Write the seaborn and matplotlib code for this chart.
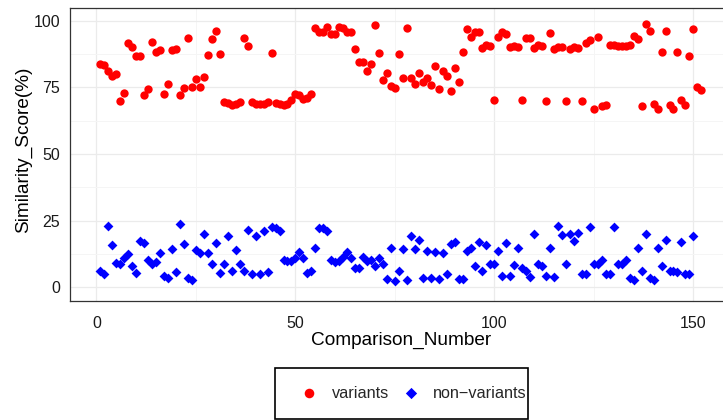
import numpy as np
import pandas as pd
import matplotlib
matplotlib.use("Agg")
import matplotlib.pyplot as plt
import seaborn as sns
from matplotlib.patches import Rectangle
from matplotlib.ticker import MultipleLocator

# ---------------- data ----------------
variants = [
    83.8, 83.5, 81.3, 79.1, 79.9, 69.8, 72.9, 91.5, 90.0, 86.7,
    86.9, 72.3, 74.3, 91.9, 88.4, 89.2, 72.6, 76.1, 89.2, 89.4,
    72.0, 74.9, 93.4, 75.1, 78.0, 75.1, 78.9, 87.3, 93.2, 96.0,
    87.6, 69.5, 69.1, 68.5, 68.6, 69.5, 93.5, 90.7, 69.5, 68.8,
    68.6, 68.8, 69.5, 87.9, 69.2, 68.6, 68.3, 68.6, 70.1, 72.6,
    72.2, 70.8, 70.9, 72.6, 97.3, 95.6, 95.6, 97.8, 95.0, 95.0,
    97.5, 97.3, 95.6, 95.6, 89.4, 84.4, 84.6, 81.0, 83.8, 98.5,
    87.8, 77.6, 80.5, 75.7, 74.7, 87.6, 78.5, 97.1, 78.5, 76.1,
    80.3, 77.0, 78.5, 76.0, 83.2, 74.5, 81.3, 79.2, 73.5, 82.3,
    77.0, 88.4, 96.9, 93.8, 95.9, 95.9, 89.8, 91.0, 90.4, 70.4,
    93.8, 95.9, 95.2, 90.0, 90.7, 90.2, 70.4, 93.5, 93.5, 89.6,
    91.0, 90.7, 69.8, 95.4, 89.4, 90.2, 90.1, 69.9, 89.4, 90.2,
    89.9, 69.9, 91.7, 92.7, 67.0, 93.8, 68.0, 68.5, 91.0, 91.0,
    90.7, 90.7, 90.7, 91.0, 94.2, 93.2, 67.9, 98.8, 96.3, 68.7,
    67.0, 88.2, 96.3, 68.3, 66.8, 88.2, 70.1, 68.3, 86.7, 96.9,
    75.1, 73.9,
]
non_variants = [
    6.1, 5.1, 22.9, 15.8, 9.2, 8.6, 11.1, 12.6, 7.9, 5.5,
    17.5, 16.7, 10.4, 8.6, 9.6, 12.9, 4.2, 3.6, 14.4, 5.7,
    23.8, 16.4, 3.4, 2.9, 14.2, 12.9, 20.0, 12.9, 8.6, 16.7,
    5.5, 8.6, 19.1, 6.1, 14.2, 8.6, 6.1, 21.6, 5.1, 19.1,
    5.1, 21.0, 5.9, 22.5, 22.3, 21.0, 10.4, 9.8, 9.8, 11.1,
    13.3, 11.1, 5.5, 6.1, 14.6, 22.3, 22.1, 21.0, 10.1, 9.6,
    9.8, 11.3, 13.3, 11.1, 7.1, 7.1, 11.3, 9.8, 10.1, 7.9,
    11.1, 8.8, 3.0, 14.8, 2.4, 6.1, 14.4, 2.6, 19.1, 14.4,
    17.9, 3.4, 13.8, 3.4, 13.3, 3.0, 12.9, 4.9, 16.3, 17.0,
    3.0, 3.0, 13.6, 14.6, 7.9, 17.0, 6.3, 15.8, 8.8, 8.6,
    13.6, 4.2, 16.7, 4.2, 8.3, 14.8, 7.3, 6.1, 3.9, 20.0,
    8.6, 7.9, 4.2, 14.8, 3.9, 22.9, 19.8, 8.8, 20.0, 17.3,
    20.4, 4.9, 4.9, 22.5, 8.6, 8.8, 10.1, 5.1, 5.1, 22.5,
    8.6, 8.8, 10.1, 3.4, 2.9, 14.8, 6.1, 20.0, 3.4, 2.9,
    14.8, 7.9, 17.9, 6.3, 6.1, 5.9, 17.0, 4.9, 4.9, 19.1,
]
x_variants = list(range(1, len(variants) + 1))
x_non_variants = list(range(1, len(non_variants) + 1))

series_labels = ["variants", "non\u2212variants"]
x_label = "Comparison_Number"
y_label = "Similarity_Score(%)"
x_ticks = [0, 50, 100, 150]
y_ticks = [0, 25, 50, 75, 100]

# ---------------- style ----------------
sns.set_style("white")
plt.rcParams["font.family"] = ["Liberation Sans", "DejaVu Sans"]

W, H = 723, 420
fig = plt.figure(figsize=(W / 100, H / 100), dpi=100)
left_px, right_px, top_px, bottom_px = 70.4, 731.4, 7.7, 301.0
ax = fig.add_axes([left_px / W, 1 - bottom_px / H,
                   (right_px - left_px) / W, (bottom_px - top_px) / H])

df_v = pd.DataFrame({"Comparison_Number": x_variants, "Similarity_Score": variants})
df_n = pd.DataFrame({"Comparison_Number": x_non_variants, "Similarity_Score": non_variants})

sns.scatterplot(data=df_v, x="Comparison_Number", y="Similarity_Score",
                color="#FF0000", marker="o", s=36, linewidth=0,
                label=series_labels[0], ax=ax, zorder=3)
sns.scatterplot(data=df_n, x="Comparison_Number", y="Similarity_Score",
                color="#0000FF", marker="D", s=25, linewidth=0,
                label=series_labels[1], ax=ax, zorder=3)

ax.set_xlim(-6.55, 159.55)
ax.set_ylim(-5.1, 104.9)
ax.set_xticks(x_ticks)
ax.set_yticks(y_ticks)
ax.xaxis.set_minor_locator(MultipleLocator(25))
ax.yaxis.set_minor_locator(MultipleLocator(12.5))

ax.set_axisbelow(True)
ax.grid(which="major", color="#EBEBEB", linewidth=0.9)
ax.grid(which="minor", color="#F5F5F5", linewidth=0.7)

ax.tick_params(which="major", direction="in", length=7.5, width=1.0,
               color="black", labelsize=11.5, labelcolor="#1A1A1A")
ax.tick_params(axis="x", which="major", pad=10.5)
ax.tick_params(axis="y", which="major", pad=7.5)
ax.tick_params(which="minor", length=0)

for sp in ax.spines.values():
    sp.set_visible(True)
    sp.set_color("#333333")
    sp.set_linewidth(0.9)

ax.set_xlabel(x_label, fontsize=13.7, color="black")
ax.set_ylabel(y_label, fontsize=13.7, color="black")
ax.xaxis.set_label_coords(0.5, -(332 - bottom_px) / (bottom_px - top_px))
ax.yaxis.set_label_coords((32 - left_px) / (right_px - left_px),
                          (bottom_px - 150) / (bottom_px - top_px))

# ---------------- legend ----------------
handles, labs = ax.get_legend_handles_labels()
if ax.get_legend() is not None:
    ax.get_legend().remove()
fig.legend(handles, labs, loc="center", bbox_to_anchor=(413 / W, 1 - 393 / H),
           ncol=2, frameon=False, fontsize=11.7, handlelength=1.2,
           handletextpad=0.8, columnspacing=0.74, borderpad=0,
           markerscale=1.15)

fig.patches.append(Rectangle((275 / W, 1 - 418.5 / H), 253 / W, 50.8 / H,
                             transform=fig.transFigure, fill=False,
                             edgecolor="black", linewidth=1.2))

fig.savefig("out.png", dpi=100)
